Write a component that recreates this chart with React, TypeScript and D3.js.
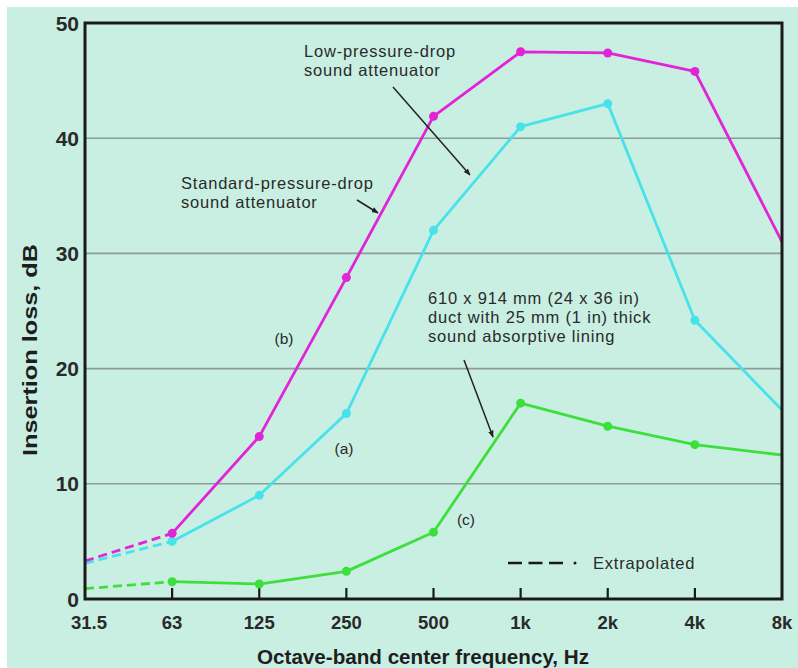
import React from "react";
import * as d3 from "d3";

const categories = ["31.5", "63", "125", "250", "500", "1k", "2k", "4k", "8k"];
const yTicks = [0, 10, 20, 30, 40, 50];
const seriesB = [3.3, 5.7, 14.1, 27.9, 41.9, 47.5, 47.4, 45.8, 31.0]; // magenta
const seriesA = [3.1, 5.0, 9.0, 16.1, 32.0, 41.0, 43.0, 24.2, 16.4]; // cyan
const seriesC = [0.9, 1.5, 1.3, 2.4, 5.8, 17.0, 15.0, 13.4, 12.5]; // green

const W = 798;
const H = 668;
const FONT = "'Liberation Sans', Arial, Helvetica, sans-serif";

export default function App() {
  const left = 85, right = 782, top = 23, bottom = 599;
  const x = d3.scalePoint<string>().domain(categories).range([left, right]);
  const y = d3.scaleLinear().domain([0, 50]).range([bottom, top]);

  const line = d3
    .line<number>()
    .x((_, i) => x(categories[i]) as number)
    .y((d) => y(d));

  const series = [
    { vals: seriesA, color: "#48e2ea" },
    { vals: seriesC, color: "#3ddf3d" },
    { vals: seriesB, color: "#e024d6" },
  ];

  const solidPath = (vals: number[]) =>
    d3
      .line<number>()
      .x((_, i) => x(categories[i + 1]) as number)
      .y((d) => y(d))(vals.slice(1)) as string;
  const dashPath = (vals: number[]) => line(vals.slice(0, 2)) as string;

  const textColor = "#2a2a2a";

  return (
    <svg
      width={W}
      height={H}
      style={{ position: "absolute", left: 0, top: 0 }}
      fontFamily={FONT}
    >
      <defs>
        <marker
          id="arr"
          viewBox="0 0 10 10"
          refX="9"
          refY="5"
          markerWidth="7"
          markerHeight="7"
          orient="auto"
          markerUnits="userSpaceOnUse"
        >
          <path d="M0,1 L10,5 L0,9 z" fill="#222" />
        </marker>
      </defs>
      <rect x={0} y={0} width={W} height={H} fill="#ffffff" />
      <rect x={7} y={7} width={W - 7} height={H - 7} fill="#c9efe3" />

      {/* gridlines */}
      {yTicks
        .filter((t) => t > 0 && t < 50)
        .map((t) => (
          <line
            key={t}
            x1={left}
            x2={right}
            y1={y(t)}
            y2={y(t)}
            stroke="#8c9c96"
            strokeWidth={1.6}
          />
        ))}

      {/* bottom ticks */}
      {categories.slice(1, -1).map((c) => (
        <line
          key={c}
          x1={x(c)}
          x2={x(c)}
          y1={bottom}
          y2={bottom - 11}
          stroke="#1a1a1a"
          strokeWidth={2.2}
        />
      ))}

      {/* series */}
      {series.map((s, k) => (
        <g key={k}>
          <path
            d={dashPath(s.vals)}
            fill="none"
            stroke={s.color}
            strokeWidth={2.8}
            strokeDasharray="9 5"
          />
          <path
            d={solidPath(s.vals)}
            fill="none"
            stroke={s.color}
            strokeWidth={2.8}
            strokeLinejoin="round"
          />
          {s.vals.slice(1, -1).map((v, i) => (
            <circle
              key={i}
              cx={x(categories[i + 1])}
              cy={y(v)}
              r={4.5}
              fill={s.color}
            />
          ))}
        </g>
      ))}

      {/* frame */}
      <rect
        x={left}
        y={top}
        width={right - left}
        height={bottom - top}
        fill="none"
        stroke="#1a1a1a"
        strokeWidth={3}
      />

      {/* y tick labels */}
      {yTicks.map((t) => (
        <text
          key={t}
          x={79}
          y={y(t) + 7.5}
          textAnchor="end"
          fontSize={21}
          fontWeight="bold"
          fill={textColor}
        >
          {t}
        </text>
      ))}

      {/* x tick labels */}
      {categories.map((c, i) => (
        <text
          key={c}
          x={(x(c) as number) + (i === 0 ? 4 : 0)}
          y={629}
          textAnchor="middle"
          fontSize={18.5}
          fontWeight="bold"
          fill={textColor}
        >
          {c}
        </text>
      ))}

      {/* axis titles */}
      <text
        x={423}
        y={664}
        textAnchor="middle"
        fontSize={19.5}
        fontWeight="bold"
        fill="#1e1e1e"
        textLength={332}
        lengthAdjust="spacingAndGlyphs"
      >
        Octave-band center frequency, Hz
      </text>
      <text
        transform="translate(37,350) rotate(-90)"
        textAnchor="middle"
        fontSize={20}
        fontWeight="bold"
        fill="#1e1e1e"
        textLength={212}
        lengthAdjust="spacingAndGlyphs"
      >
        Insertion loss, dB
      </text>

      {/* annotations */}
      <g fontSize={16.5} fill={textColor} letterSpacing={0.8}>
        <text x={304} y={57}>Low-pressure-drop</text>
        <text x={304} y={76}>sound attenuator</text>
        <text x={181} y={189}>Standard-pressure-drop</text>
        <text x={181} y={208}>sound attenuator</text>
        <text x={428} y={304}>610 x 914 mm (24 x 36 in)</text>
        <text x={428} y={323}>duct with 25 mm (1 in) thick</text>
        <text x={428} y={342}>sound absorptive lining</text>
        <text x={593} y={569}>Extrapolated</text>
      </g>
      <g fontSize={15.5} fill={textColor} textAnchor="middle">
        <text x={284} y={344}>(b)</text>
        <text x={344} y={454}>(a)</text>
        <text x={466} y={525}>(c)</text>
      </g>

      {/* legend dash */}
      <line
        x1={508}
        x2={563}
        y1={563}
        y2={563}
        stroke="#1a1a1a"
        strokeWidth={2.5}
        strokeDasharray="14 6.5"
      />
      <circle cx={575} cy={563} r={1.5} fill="#1a1a1a" />

      {/* arrows */}
      <g stroke="#222" strokeWidth={1.5} markerEnd="url(#arr)">
        <line x1={393} y1={87} x2={470} y2={175} />
        <line x1={357} y1={200} x2={378} y2={213} />
        <line x1={464} y1={360} x2={493} y2={437} />
      </g>
    </svg>
  );
}
